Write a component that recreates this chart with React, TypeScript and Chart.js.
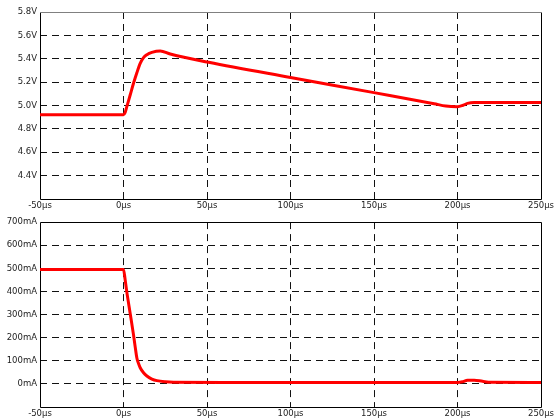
import React, { useEffect, useRef } from 'react';
import { Chart, registerables } from 'chart.js';

Chart.register(...registerables);

// ---- Data ----
const xTicksUs = [-50, 0, 50, 100, 150, 200, 250];

const voltTimeUs = [-50, 0, 1, 2, 4, 6, 8, 10, 12, 14, 17, 22, 28, 51, 100, 150, 186, 193, 200, 203, 206, 210, 250];
const voltageV = [4.92, 4.92, 4.94, 4.99, 5.09, 5.19, 5.28, 5.36, 5.41, 5.435, 5.455, 5.467, 5.44, 5.37, 5.24, 5.11, 5.015, 4.995, 4.99, 5.0, 5.018, 5.025, 5.025];

const currTimeUs = [-50, 0, 1, 2, 4, 6, 7, 8, 9, 10, 12, 14, 17, 20, 25, 30, 60, 200, 203, 206, 210, 215, 220, 250];
const currentMA = [495, 495, 450, 397, 305, 212, 160, 112, 88, 70, 48, 34, 21, 14, 9, 7, 6, 6, 9, 16, 16, 11, 7, 6];

const voltMin = 4.2;
const voltMax = 5.8;
const currMin = -100;
const currMax = 700;

const FONT = { family: '"DejaVu Sans", Verdana, sans-serif', size: 8.5 };
const LABEL_COLOR = '#222';
const GRID_COLOR = '#111';

function makeBorderPlugin(topColor: string) {
  return {
    id: 'frame',
    beforeDatasetsDraw(chart: any) {
      const { ctx, chartArea } = chart;
      const l = Math.round(chartArea.left) + 0.5;
      const r = Math.round(chartArea.right) + 0.5;
      const t = Math.round(chartArea.top) + 0.5;
      const b = Math.round(chartArea.bottom) + 0.5;
      ctx.save();
      ctx.lineWidth = 1;
      ctx.setLineDash([]);
      ctx.strokeStyle = '#000';
      ctx.beginPath();
      ctx.moveTo(l, t);
      ctx.lineTo(l, b);
      ctx.lineTo(r, b);
      ctx.lineTo(r, t);
      ctx.stroke();
      ctx.strokeStyle = topColor;
      ctx.beginPath();
      ctx.moveTo(l, t);
      ctx.lineTo(r, t);
      ctx.stroke();
      ctx.restore();
    },
  };
}

function buildConfig(opts: {
  xs: number[];
  ys: number[];
  yMin: number;
  yMax: number;
  yStep: number;
  fmt: (v: number) => string;
  canvasH: number;
  areaTop: number;
  areaBottom: number;
  xPad: number;
  topColor: string;
}): any {
  const data = opts.xs.map((x, i) => ({ x, y: opts.ys[i] }));
  const eps = opts.yStep / 100;
  return {
    type: 'line',
    data: {
      datasets: [
        {
          data,
          borderColor: '#ff0000',
          borderWidth: 3,
          pointRadius: 0,
          cubicInterpolationMode: 'monotone',
          fill: false,
        },
      ],
    },
    options: {
      responsive: false,
      animation: false,
      events: [],
      layout: { padding: { left: 0, right: 17, top: opts.areaTop, bottom: 0 } },
      plugins: { legend: { display: false }, tooltip: { enabled: false } },
      scales: {
        x: {
          type: 'linear',
          min: -50,
          max: 250,
          afterBuildTicks: (scale: any) => {
            scale.ticks = xTicksUs.map((v) => ({ value: v }));
          },
          afterFit: (scale: any) => {
            scale.height = opts.canvasH - opts.areaBottom;
          },
          ticks: {
            font: FONT,
            color: LABEL_COLOR,
            padding: opts.xPad,
            maxRotation: 0,
            autoSkip: false,
            callback: (v: any) => `${v}µs`,
          },
          grid: {
            drawTicks: false,
            lineWidth: 1,
            color: (c: any) =>
              c.tick && (c.tick.value <= -50 || c.tick.value >= 250) ? 'rgba(0,0,0,0)' : GRID_COLOR,
            borderDash: [7, 5],
          },
          border: { display: false, dash: [7, 5] },
        },
        y: {
          type: 'linear',
          min: opts.yMin,
          max: opts.yMax,
          afterBuildTicks: (scale: any) => {
            const t: any[] = [];
            const n = Math.round((opts.yMax - opts.yMin) / opts.yStep);
            for (let i = 0; i <= n; i++) t.push({ value: opts.yMin + i * opts.yStep });
            scale.ticks = t;
          },
          afterFit: (scale: any) => {
            scale.width = 40;
          },
          ticks: {
            font: FONT,
            color: LABEL_COLOR,
            padding: 3,
            autoSkip: false,
            callback: (v: any) => (v < opts.yMin + eps ? '' : opts.fmt(v)),
          },
          grid: {
            drawTicks: false,
            lineWidth: 1,
            color: (c: any) =>
              c.tick && (c.tick.value <= opts.yMin + eps || c.tick.value >= opts.yMax - eps)
                ? 'rgba(0,0,0,0)'
                : GRID_COLOR,
            borderDash: [7, 5],
          },
          border: { display: false, dash: [7, 5] },
        },
      },
    },
    plugins: [makeBorderPlugin(opts.topColor)],
  };
}

function ChartCanvas(props: { config: any; width: number; height: number; top: number }) {
  const ref = useRef<HTMLCanvasElement | null>(null);
  useEffect(() => {
    if (!ref.current) return;
    const chart = new Chart(ref.current, props.config);
    return () => chart.destroy();
  }, []);
  return (
    <canvas
      ref={ref}
      width={props.width}
      height={props.height}
      style={{ position: 'absolute', left: 0, top: props.top, width: props.width, height: props.height, display: 'block' }}
    />
  );
}

export default function App() {
  const voltConfig = buildConfig({
    xs: voltTimeUs,
    ys: voltageV,
    yMin: voltMin,
    yMax: voltMax,
    yStep: 0.2,
    fmt: (v) => `${(Math.round(v * 10) / 10).toFixed(1)}V`,
    canvasH: 214,
    areaTop: 12,
    areaBottom: 199,
    xPad: 2,
    topColor: '#808080',
  });
  const currConfig = buildConfig({
    xs: currTimeUs,
    ys: currentMA,
    yMin: currMin,
    yMax: currMax,
    yStep: 100,
    fmt: (v) => `${Math.round(v)}mA`,
    canvasH: 205,
    areaTop: 5,
    areaBottom: 193,
    xPad: 2,
    topColor: '#000',
  });
  return (
    <div style={{ position: 'absolute', left: 0, top: 0, width: 558, height: 419, background: '#fff', overflow: 'hidden' }}>
      <ChartCanvas config={voltConfig} width={558} height={214} top={0} />
      <ChartCanvas config={currConfig} width={558} height={205} top={214} />
    </div>
  );
}
